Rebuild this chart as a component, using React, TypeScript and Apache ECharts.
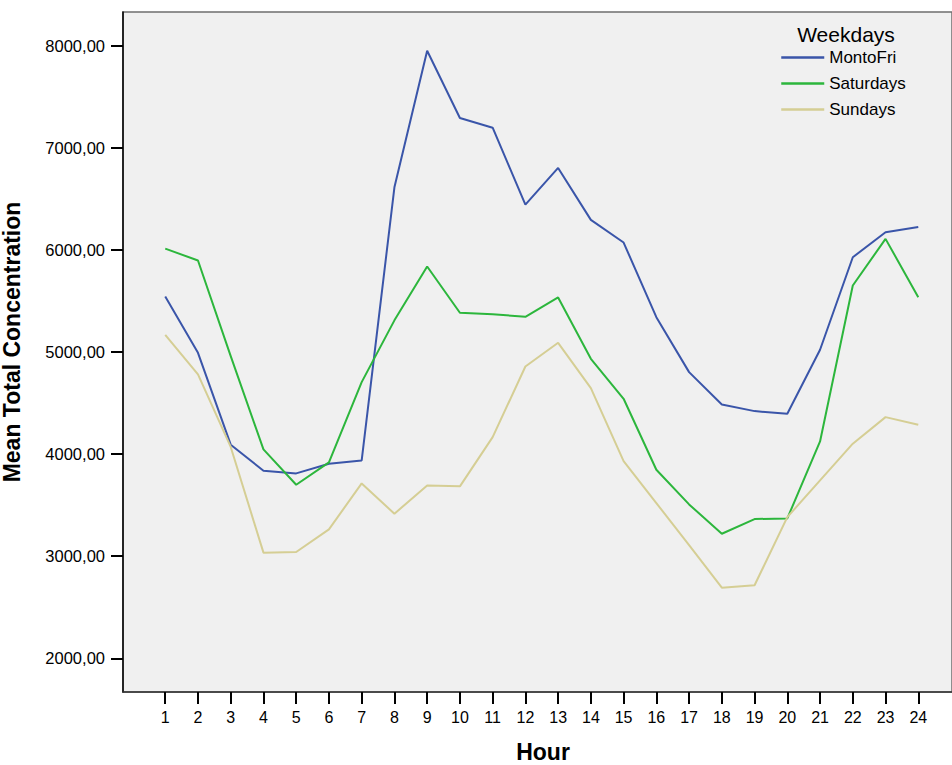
import React, { useEffect, useRef } from "react";
import * as echarts from "echarts";

const hours = [1, 2, 3, 4, 5, 6, 7, 8, 9, 10, 11, 12, 13, 14, 15, 16, 17, 18, 19, 20, 21, 22, 23, 24];
const yTicks = [2000, 3000, 4000, 5000, 6000, 7000, 8000];
const seriesNames = ["MontoFri", "Saturdays", "Sundays"];
const monToFri = [5543, 4992, 4092, 3837, 3811, 3906, 3938, 6613, 7951, 7292, 7197, 6444, 6803, 6294, 6072, 5341, 4803, 4486, 4421, 4395, 5022, 5928, 6173, 6225];
const saturdays = [6013, 5896, 4960, 4046, 3700, 3919, 4705, 5310, 5837, 5384, 5370, 5345, 5534, 4933, 4542, 3847, 3507, 3220, 3364, 3370, 4124, 5651, 6108, 5537];
const sundays = [5168, 4780, 4070, 3035, 3041, 3263, 3713, 3416, 3693, 3684, 4166, 4858, 5090, 4646, 3931, 3520, 3109, 2692, 2715, 3383, 3742, 4102, 4362, 4287];
const colors = ["#3a55a9", "#2cb63c", "#d5ce94"];

const FONT = "'Liberation Sans', Arial, sans-serif";

export default function App() {
  const ref = useRef<HTMLDivElement>(null);
  useEffect(() => {
    if (!ref.current) return;
    const chart = echarts.init(ref.current, null, { renderer: "svg" });
    const allData = [monToFri, saturdays, sundays];
    chart.setOption({
      animation: false,
      backgroundColor: "#ffffff",
      textStyle: { fontFamily: FONT },
      grid: {
        left: 123,
        top: 12,
        width: 829,
        height: 680,
        show: true,
        backgroundColor: "#f0f0f0",
        borderColor: "#6e6e6e",
        borderWidth: 1.5,
      },
      xAxis: {
        type: "value",
        min: -0.29,
        max: 25.03,
        axisLine: { show: true, onZero: false, lineStyle: { color: "#333333", width: 1.5 } },
        axisTick: {
          show: true,
          customValues: hours,
          length: 12,
          lineStyle: { color: "#000000", width: 2 },
        },
        axisLabel: {
          customValues: hours,
          color: "#000000",
          fontSize: 16,
          fontFamily: FONT,
          margin: 17,
        },
        splitLine: { show: false },
      },
      yAxis: {
        type: "value",
        min: 1670,
        max: 8330,
        axisLine: { show: true, onZero: false, lineStyle: { color: "#000000", width: 1.5 } },
        axisTick: {
          show: true,
          customValues: yTicks,
          length: 12,
          lineStyle: { color: "#000000", width: 2 },
        },
        axisLabel: {
          customValues: yTicks,
          color: "#000000",
          fontSize: 16.5,
          fontFamily: FONT,
          margin: 18,
          formatter: (v: number) => v.toFixed(2).replace(".", ","),
        },
        splitLine: { show: false },
      },
      legend: {
        orient: "vertical",
        left: 780,
        top: 49,
        padding: 0,
        itemWidth: 43,
        itemHeight: 17,
        itemGap: 9,
        data: seriesNames,
        itemStyle: { color: "rgba(0,0,0,0)", borderColor: "rgba(0,0,0,0)", borderWidth: 0, opacity: 0 },
        lineStyle: { width: 2.5 },
        textStyle: { fontSize: 17, lineHeight: 17, color: "#000000", fontFamily: FONT },
      },
      graphic: [
        {
          type: "text",
          x: 846,
          y: 34,
          style: { text: "Weekdays", fontSize: 21, fontFamily: FONT, fill: "#000000", align: "center", verticalAlign: "middle" },
        },
        {
          type: "text",
          x: 543,
          y: 752,
          style: { text: "Hour", fontSize: 23, fontWeight: "bold", fontFamily: FONT, fill: "#000000", align: "center", verticalAlign: "middle" },
        },
        {
          type: "text",
          x: 12,
          y: 342,
          rotation: Math.PI / 2,
          style: { text: "Mean Total Concentration", fontSize: 23, fontWeight: "bold", fontFamily: FONT, fill: "#000000", align: "center", verticalAlign: "middle" },
        },
      ],
      series: seriesNames.map((name, i) => ({
        name,
        type: "line",
        data: hours.map((h, j) => [h, allData[i][j]]),
        symbol: "none",
        showSymbol: false,
        lineStyle: { color: colors[i], width: 2 },
        itemStyle: { color: colors[i] },
      })),
    });
    return () => chart.dispose();
  }, []);
  return <div ref={ref} style={{ position: "fixed", left: 0, top: 0, width: 952, height: 765 }} />;
}
